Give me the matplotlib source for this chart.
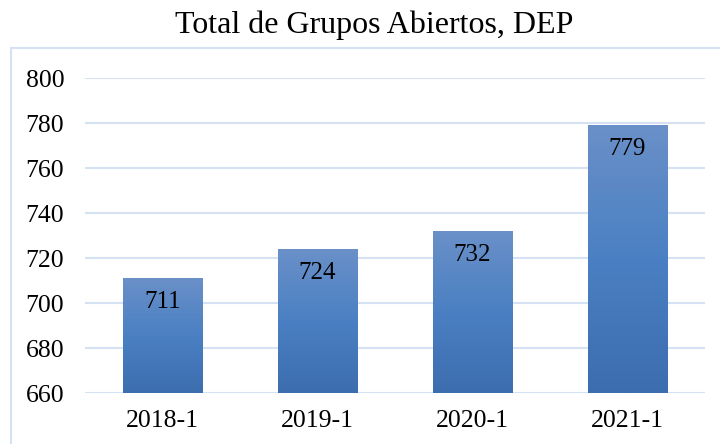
import numpy as np
import matplotlib.pyplot as plt
from matplotlib.colors import LinearSegmentedColormap
from matplotlib.patches import Rectangle

# datos
periodos = ["2018-1", "2019-1", "2020-1", "2021-1"]
grupos = [711, 724, 732, 779]
y_ticks = [660, 680, 700, 720, 740, 760, 780, 800]

plt.rcParams['font.family'] = ['Liberation Serif', 'DejaVu Serif']

fig = plt.figure(figsize=(7.2, 4.44), dpi=100)
ax = fig.add_axes([85 / 720, 1 - 393 / 444, 620 / 720, 315 / 444])

# marco del grafico (solo se ven arriba e izquierda)
fig.patches.append(Rectangle((11 / 720, -0.05), 1.2, 1 - 48 / 444 + 0.05,
                             transform=fig.transFigure, fill=False,
                             edgecolor="#D5E2F3", linewidth=1.5))

cmap = LinearSegmentedColormap.from_list("azul", ["#3C6DAF", "#4A80C3", "#6A90C8"])
grad = np.linspace(0, 1, 256).reshape(-1, 1)

x = np.arange(len(periodos))
barras = ax.bar(x, np.array(grupos) - 660, bottom=660, width=0.51, color="none", zorder=3)
for b, v in zip(barras, grupos):
    x0 = b.get_x()
    im = ax.imshow(grad, cmap=cmap, origin="lower", aspect="auto",
                   extent=(x0, x0 + b.get_width(), 660, v), zorder=3)
    im.set_clip_path(b)
    ax.annotate(str(v), (b.get_x() + b.get_width() / 2, v), xytext=(0, -24),
                textcoords="offset pixels", ha="center", va="center",
                fontsize=18, zorder=4)

ax.set_xlim(-0.5, len(periodos) - 0.5)
ax.set_ylim(660, 800)
ax.set_yticks(y_ticks)
ax.set_xticks(x)
ax.set_xticklabels(periodos)
ax.tick_params(axis="both", length=0, labelsize=18.5)
ax.tick_params(axis="y", pad=15)
ax.tick_params(axis="x", pad=12)
ax.grid(axis="y", color="#D5E2F3", linewidth=1.5, zorder=0)
ax.set_axisbelow(True)
for s in ax.spines.values():
    s.set_visible(False)

fig.text(374 / 720, 1 - 25 / 444, "Total de Grupos Abiertos, DEP", ha="center", va="center", fontsize=23)

fig.savefig("out.png", dpi=100)
